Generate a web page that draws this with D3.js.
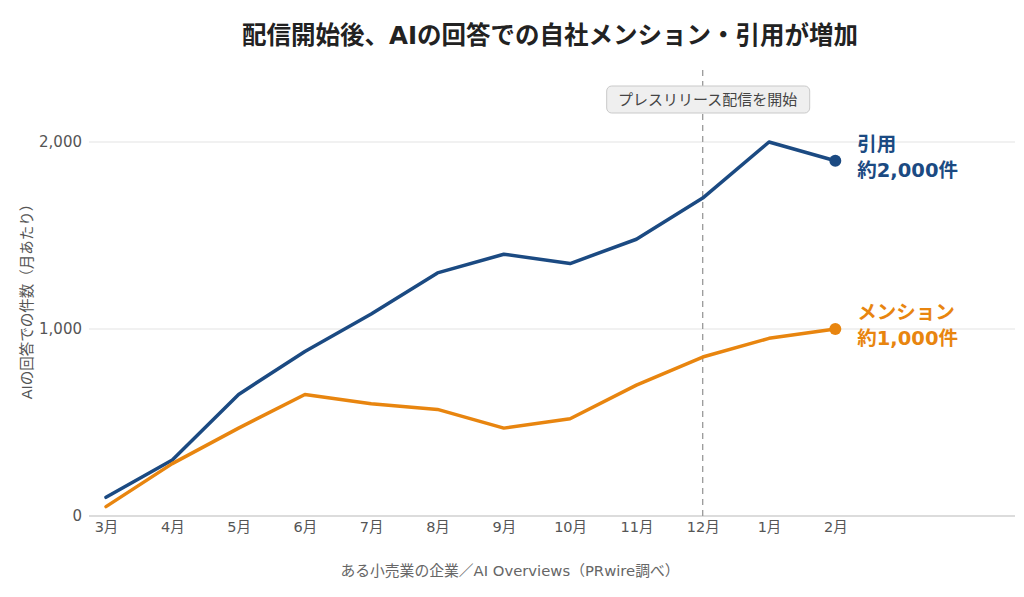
<!DOCTYPE html>
<html>
<head>
<meta charset="utf-8">
<script src="https://cdn.jsdelivr.net/npm/d3@7"></script>
<style>
  body { margin: 0; background: #fff; }
  svg { font-family: "DejaVu Sans", "Noto Sans CJK JP", sans-serif; }
</style>
</head>
<body>
<div id="chart"></div>
<script>
// chart data
const months = ['3月', '4月', '5月', '6月', '7月', '8月', '9月', '10月', '11月', '12月', '1月', '2月'];
const citations = [100, 300, 650, 880, 1080, 1300, 1400, 1350, 1480, 1700, 2000, 1900];
const mentions = [50, 280, 470, 650, 600, 570, 470, 520, 700, 850, 950, 1000];
const yTicks = [0, 1000, 2000];
const releaseMonth = '12月';

const width = 1024, height = 597;
const margin = { top: 70, right: 9, bottom: 81, left: 89 };
const plotW = width - margin.left - margin.right;
const plotH = height - margin.top - margin.bottom;

const svg = d3.select('#chart').append('svg')
    .attr('width', width)
    .attr('height', height);

// title
svg.append('text')
    .attr('x', 550)
    .attr('y', 44)
    .attr('text-anchor', 'middle')
    .attr('font-size', '24.5px')
    .attr('font-weight', 'bold')
    .attr('fill', '#222')
    .text('配信開始後、AIの回答での自社メンション・引用が増加');

const g = svg.append('g')
    .attr('transform', `translate(${margin.left},${margin.top})`);

// x scale: months sit on the left part of the plot, with empty room on the right for labels
const x = d3.scalePoint()
    .domain(months)
    .range([17, 17 + 66.3 * (months.length - 1)]);

const y = d3.scaleLinear()
    .domain([0, 2000 * 446 / 374])
    .range([plotH, 0]);

// grid lines
g.selectAll('.grid')
    .data(yTicks.filter(d => d > 0))
    .join('line')
    .attr('class', 'grid')
    .attr('x1', 0)
    .attr('x2', plotW)
    .attr('y1', d => y(d))
    .attr('y2', d => y(d))
    .attr('stroke', '#e3e3e3')
    .attr('stroke-width', 1);

// x axis baseline
g.append('line')
    .attr('x1', 0)
    .attr('x2', plotW)
    .attr('y1', plotH)
    .attr('y2', plotH)
    .attr('stroke', '#d0d0d0')
    .attr('stroke-width', 1.5);

// y axis labels
const yAxis = g.append('g')
    .call(d3.axisLeft(y).tickValues(yTicks).tickSize(0).tickPadding(7).tickFormat(d3.format(',')));
yAxis.select('.domain').remove();
yAxis.selectAll('text')
    .attr('font-size', '15px')
    .attr('fill', '#555')
    .attr('font-family', '"DejaVu Sans", "Noto Sans CJK JP", sans-serif');

// x axis labels
const xAxis = g.append('g')
    .attr('transform', `translate(0,${plotH})`)
    .call(d3.axisBottom(x).tickSize(0).tickPadding(6));
xAxis.select('.domain').remove();
xAxis.selectAll('text')
    .attr('font-size', '14.5px')
    .attr('fill', '#555')
    .attr('font-family', '"DejaVu Sans", "Noto Sans CJK JP", sans-serif');

// y axis title
svg.append('text')
    .attr('transform', `translate(32,${298}) rotate(-90)`)
    .attr('text-anchor', 'middle')
    .attr('font-size', '14.5px')
    .attr('fill', '#555')
    .text('AIの回答での件数（月あたり）');

// source note
svg.append('text')
    .attr('x', 510)
    .attr('y', 576)
    .attr('text-anchor', 'middle')
    .attr('font-size', '14.8px')
    .attr('fill', '#666')
    .text('ある小売業の企業／AI Overviews（PRwire調べ）');

// release marker
g.append('line')
    .attr('x1', x(releaseMonth))
    .attr('x2', x(releaseMonth))
    .attr('y1', 0)
    .attr('y2', plotH)
    .attr('stroke', '#999')
    .attr('stroke-width', 1.3)
    .attr('stroke-dasharray', '6,5');

const noteText = 'プレスリリース配信を開始';
const note = g.append('g')
    .attr('transform', `translate(${x(releaseMonth)},${29})`);
note.append('rect')
    .attr('x', -96)
    .attr('y', -13)
    .attr('width', 203)
    .attr('height', 27)
    .attr('rx', 5)
    .attr('fill', '#efefef')
    .attr('stroke', '#c9c9c9');
note.append('text')
    .attr('x', 5)
    .attr('y', 6)
    .attr('text-anchor', 'middle')
    .attr('font-size', '15px')
    .attr('fill', '#444')
    .text(noteText);

// lines
const series = [
    { name: '引用', values: citations, color: '#1b4a82', label: ['引用', '約2,000件'] },
    { name: 'メンション', values: mentions, color: '#e8850f', label: ['メンション', '約1,000件'] }
];

const line = d3.line()
    .x((d, i) => x(months[i]))
    .y(d => y(d));

series.forEach(s => {
    g.append('path')
        .datum(s.values)
        .attr('fill', 'none')
        .attr('stroke', s.color)
        .attr('stroke-width', 3.5)
        .attr('stroke-linejoin', 'round')
        .attr('stroke-linecap', 'round')
        .attr('d', line);

    const last = s.values.length - 1;
    g.append('circle')
        .attr('cx', x(months[last]))
        .attr('cy', y(s.values[last]))
        .attr('r', 6)
        .attr('fill', s.color);

    // end labels
    const lbl = g.append('text')
        .attr('x', x(months[last]) + 22)
        .attr('y', y(s.values[last]) - 10)
        .attr('font-size', '19.5px')
        .attr('font-weight', 'bold')
        .attr('fill', s.color);
    s.label.forEach((t, i) => {
        lbl.append('tspan')
            .attr('x', x(months[last]) + 22)
            .attr('dy', i === 0 ? 0 : 26)
            .text(t);
    });
});
</script>
</body>
</html>
